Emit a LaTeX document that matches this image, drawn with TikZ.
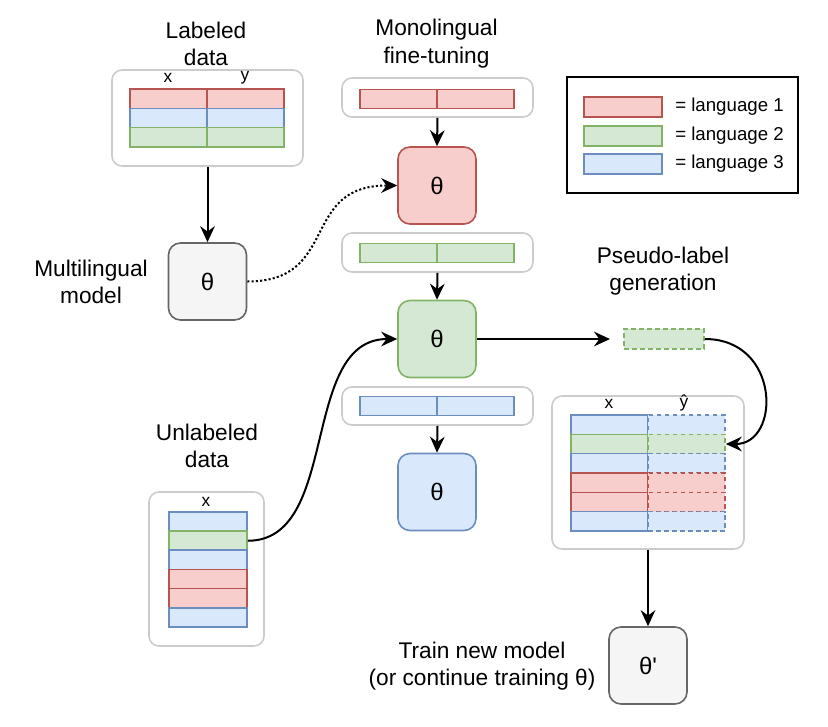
\documentclass[tikz,border=0pt]{standalone}
\usepackage{fontspec}
\setmainfont{Liberation Sans}[Ligatures=TeXOff]
\usetikzlibrary{arrows.meta,positioning}
\definecolor{redfill}{HTML}{F8CECC}
\definecolor{redline}{HTML}{B85450}
\definecolor{greenfill}{HTML}{D5E8D4}
\definecolor{greenline}{HTML}{82B366}
\definecolor{bluefill}{HTML}{DAE8FC}
\definecolor{blueline}{HTML}{6C8EBF}
\definecolor{grayfill}{HTML}{F5F5F5}
\definecolor{grayline}{HTML}{666666}
\definecolor{boxline}{HTML}{CCCCCC}
\tikzset{lang/.style={fill=#1fill,draw=#1line}}
\tikzset{cell/.style={line width=1.2pt,minimum width=57.75pt,minimum height=14.5pt,inner sep=0pt}}
\tikzset{guess/.style={dash pattern=on 3.5pt off 2.5pt}}
\tikzset{holder/.style={draw=boxline,line width=1.2pt,rounded corners=7.5pt,inner sep=0pt}}
\tikzset{model/.style={line width=1.2pt,rounded corners=9pt,minimum width=58.5pt,minimum height=57.75pt,inner sep=0pt,font=\fontsize{18}{20}\selectfont}}
\tikzset{caption/.style={align=center,font=\fontsize{17}{20.5}\selectfont}}
\tikzset{colname/.style={font=\fontsize{13}{15}\selectfont,inner sep=0pt}}
\tikzset{flow/.style={-{Stealth[length=12pt,width=11pt,inset=4pt]},line width=1.5pt}}

\begin{document}
\begin{tikzpicture}[x=0.75pt,y=-0.75pt]
	\useasboundingbox (0,0) rectangle (828,726);
	%% labeled data
	\node[caption] (labtext) at (206,44) {Labeled\\data};
	\node[holder,minimum width=143.25pt,minimum height=72pt] (lab) at (207.5,118) {};
	\node[colname] (labx) at (168,78) {x};
	\node[colname] (laby) at (245,78) {y};
	\foreach \c [count=\i] in {red,blue,green} {
		\node[cell,lang=\c] (lx\i) at (168.5,{89+19.33*(\i-0.5)}) {};
		\node[cell,lang=\c] (ly\i) at (245.5,{89+19.33*(\i-0.5)}) {};
	}
	%% multilingual model
	\node[caption] (multitext) at (91,282) {Multilingual\\model};
	\node[model,fill=grayfill,draw=grayline] (multi) at (207.5,281.5) {θ};
	\draw[flow] (lab.south) -- (multi.north);
	%%
	\node[caption] (monotext) at (436.5,43.5) {Monolingual\\fine-tuning};
	\node[holder,minimum width=143.25pt,minimum height=29.25pt] (s1) at (437.5,97.5) {};
	\node[cell,lang=red] (s1a) at (398.5,99) {};
	\node[cell,lang=red] (s1b) at (475.5,99) {};
	\node[model,lang=red] (m1) at (437,185.5) {θ};
	\draw[flow] (s1.south) -- (m1.north);
	\node[holder,minimum width=143.25pt,minimum height=29.25pt] (s2) at (437.5,252.5) {};
	\node[cell,lang=green] (s2a) at (398.5,253) {};
	\node[cell,lang=green] (s2b) at (475.5,253) {};
	\node[model,lang=green] (m2) at (437,339) {θ};
	\draw[flow] (s2.south) -- (m2.north);
	\node[holder,minimum width=143.25pt,minimum height=28.5pt] (s3) at (437.5,406) {};
	\node[cell,lang=blue] (s3a) at (398.5,406) {};
	\node[cell,lang=blue] (s3b) at (475.5,406) {};
	\node[model,lang=blue] (m3) at (437,492) {θ};
	\draw[flow] (s3.south) -- (m3.north);
	\draw[flow,dash pattern=on 1.6pt off 1.6pt] (multi.east) .. controls +(93,0) and +(-98,0) .. (m1.west);
	%% unlabeled data
	\node[caption] (unltext) at (207,446) {Unlabeled\\data};
	\node[holder,minimum width=86.25pt,minimum height=115.5pt] (unl) at (206.5,569) {};
	\node[colname] (unlx) at (206,502) {x};
	\foreach \c [count=\i] in {blue,green,blue,red,red,blue} {
		\node[cell,lang=\c,minimum width=58.5pt] (u\i) at (208,{512+19.17*(\i-0.5)}) {};
	}
	\draw[flow] (u2.east) .. controls +(93,0) and +(-98,0) .. (m2.west);
	%% pseudo-labels
	\node[caption] (gentext) at (663,271) {Pseudo-label\\generation};
	\coordinate (gen) at (610,339);
	\draw[flow] (m2.east) -- (gen);
	\node[cell,lang=green,guess,minimum width=60pt,minimum height=15pt] (pl) at (664,339) {};
	\node[holder,minimum width=144pt,minimum height=114.75pt] (ptab) at (648,472.5) {};
	\node[colname] (ptabx) at (609,404) {x};
	\node[colname] (ptaby) at (684,403) {ŷ};
	\foreach \c [count=\i] in {blue,green,blue,red,red,blue} {
		\node[cell,lang=\c] (px\i) at (609.5,{415+19.33*(\i-0.5)}) {};
		\node[cell,lang=\c,guess] (py\i) at (686.5,{415+19.33*(\i-0.5)}) {};
	}
	\draw[flow] (pl.east) .. controls +(76,0) and +(55,0) .. (py2.east);
	%% new model
	\node[caption] (newtext) at (482,666) {Train new model\\(or continue training θ)};
	\node[model,fill=grayfill,draw=grayline] (new) at (648,665.5) {θ'};
	\draw[flow] (ptab.south) -- (new.north);
	%% legend
	\node[draw=black,line width=1.4pt,minimum width=173.25pt,minimum height=87pt] (key) at (682.5,135) {};
	\foreach \c/\y [count=\i] in {red/107,green/136,blue/164} {
		\node[cell,lang=\c,minimum width=58.5pt,minimum height=15pt] (sw\i) at (623,\y) {};
		\node[anchor=west,inner sep=0pt,font=\fontsize{14}{16}\selectfont] (kt\i) at (675,\y) {= language \i};
	}
\end{tikzpicture}
\end{document}
